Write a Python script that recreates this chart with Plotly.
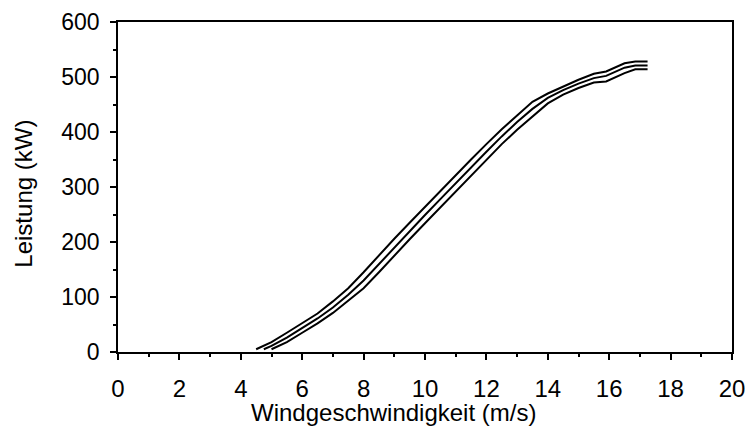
import plotly.graph_objects as go

# Wind speed (m/s)
wind_speed = [4.5, 4.75, 5.0, 5.5, 6.0, 6.5, 7.0, 7.5, 8.0, 8.5, 9.0, 9.5, 10.0,
              10.5, 11.0, 11.5, 12.0, 12.5, 13.0, 13.5, 14.0, 14.5, 15.0, 15.5,
              15.9, 16.5, 16.85, 17.25]
# Power (kW): upper bound, mean curve, lower bound
power_upper = [5, 11, 18, 35, 52, 70, 92, 116, 145, 176, 206, 235, 264,
               293, 322, 350, 378, 405, 430, 455, 470, 483, 495, 506,
               510, 525, 528, 528]
power_mid = [None, 5, 11, 26, 43, 61, 81, 104, 130, 160, 191, 220, 249,
             278, 307, 336, 364, 392, 418, 442, 462, 476, 488, 498,
             502, 517, 521, 521]
power_lower = [None, None, 5, 18, 35, 52, 71, 93, 116, 145, 176, 205, 234,
               263, 292, 321, 349, 378, 404, 428, 452, 468, 480, 490,
               492, 507, 514, 514]

x_ticks = [0, 2, 4, 6, 8, 10, 12, 14, 16, 18, 20]
y_ticks = [0, 100, 200, 300, 400, 500, 600]
x_title = "Windgeschwindigkeit (m/s)"
y_title = "Leistung (kW)"

fig = go.Figure()
for series in (power_upper, power_mid, power_lower):
    fig.add_trace(go.Scatter(x=wind_speed, y=series, mode="lines",
                             line=dict(color="black", width=2),
                             showlegend=False, hoverinfo="skip"))

font = "Liberation Sans, Arial, sans-serif"
fig.update_layout(
    width=745, height=428,
    margin=dict(l=118, r=13, t=22, b=76),
    paper_bgcolor="white", plot_bgcolor="white",
    font=dict(family=font, color="black"),
)
fig.update_xaxes(
    range=[0, 20], tickvals=x_ticks, ticktext=[str(v) for v in x_ticks],
    showgrid=False, zeroline=False, automargin=False,
    showline=True, linecolor="black", linewidth=1.5, mirror=True,
    ticks="outside", ticklen=6, tickwidth=1.5, tickcolor="black",
    minor=dict(dtick=1, tick0=0, ticks="outside", ticklen=3, tickwidth=1.5, tickcolor="black"),
    tickfont=dict(size=24, family=font, color="black"),
    ticklabelstandoff=8, ticklabeloverflow="allow",
)
fig.update_yaxes(
    range=[0, 600], tickvals=y_ticks, ticktext=[str(v) for v in y_ticks],
    showgrid=False, zeroline=False, automargin=False,
    showline=True, linecolor="black", linewidth=1.5, mirror=True,
    ticks="outside", ticklen=6, tickwidth=1.5, tickcolor="black",
    minor=dict(dtick=50, tick0=0, ticks="outside", ticklen=3, tickwidth=1.5, tickcolor="black"),
    tickfont=dict(size=23, family=font, color="black"),
    ticklabelstandoff=6, ticklabeloverflow="allow",
)
fig.add_annotation(text=x_title, xref="paper", yref="paper", x=0.4495, y=-0.183,
                   xanchor="center", yanchor="middle", showarrow=False,
                   font=dict(size=24, family=font, color="black"))
fig.add_annotation(text=y_title, xref="paper", yref="paper", x=-0.153, y=0.48,
                   xanchor="center", yanchor="middle", showarrow=False, textangle=-90,
                   font=dict(size=24, family=font, color="black"))

fig.write_html("out.html", config={"displayModeBar": False},
               post_script="document.body.style.margin='0';document.body.style.overflow='hidden';")
